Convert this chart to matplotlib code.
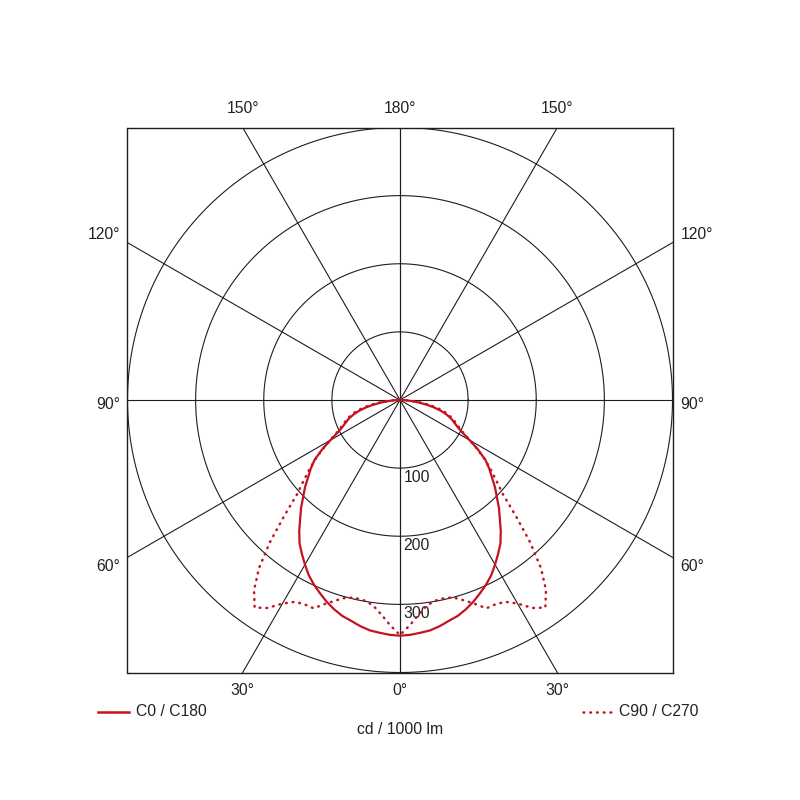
import numpy as np
import matplotlib
matplotlib.use("Agg")
import matplotlib.pyplot as plt
from matplotlib.lines import Line2D

plt.rcParams['font.family'] = ['Liberation Sans', 'DejaVu Sans']

# ---- data (gamma angle from nadir, cd / 1000 lm) ----
gamma_deg = [0, 2.5, 5, 7.5, 10, 12.5, 15, 17.5, 20, 22.5, 25, 27.5, 30, 32.5,
             35, 37.5, 40, 42.5, 45, 47.5, 50, 52.5, 55, 57.5, 60, 62.5, 65,
             67.5, 70, 72.5, 75, 77.5, 80, 82.5, 85, 87.5, 90]
c0_c180 = [346, 345, 343, 341, 337, 332, 328, 322, 315, 307, 299, 290, 279, 268,
           257, 243, 228, 215, 201, 189, 176, 165, 153, 136, 118, 103, 93,
           86, 80, 72, 63, 52, 40, 27, 16, 7, 0]
c90_c270 = [345, 331, 316, 304, 299, 298, 300, 308, 318, 331, 331, 334, 345, 362,
            372, 352, 322, 282, 240, 205, 185, 168, 152, 135, 119, 105, 96,
            89, 83, 76, 68, 58, 46, 34, 21, 10, 0]

ring_values = [100, 200, 300, 400]
ring_labels = ['100', '200', '300']
spoke_angles = [0, 30, 60, 90, 120, 150, 180]
top_labels = ['150°', '180°', '150°']
bottom_labels = ['30°', '0°', '30°']
side_labels = ['120°', '90°', '60°']
legend_labels = ['C0 / C180', 'C90 / C270']
unit_label = 'cd / 1000 lm'

RED = '#C5121F'
GRID = '#1e1e1e'
FS = 11.3
DOTS = (0, (0.3, 2.4))

fig = plt.figure(figsize=(8, 8), dpi=100)
ax = fig.add_axes([127.5 / 800, 127.5 / 800, 545 / 800, 545 / 800])
R = 400
ax.set_xlim(-R, R)
ax.set_ylim(-R, R)
ax.set_xticks([])
ax.set_yticks([])
for s in ax.spines.values():
    s.set_linewidth(1.0)
    s.set_color(GRID)

# rings
t = np.linspace(0, 2 * np.pi, 721)
for v in ring_values:
    ax.plot(v * np.cos(t), v * np.sin(t), color=GRID, lw=0.8, zorder=1)

# spokes
L = 2000
for a in spoke_angles:
    rad = np.deg2rad(a)
    for sgn in (1, -1):
        ax.plot([0, sgn * L * np.sin(rad)], [0, -L * np.cos(rad)],
                color=GRID, lw=0.8, zorder=1)

# ring value labels
for v, lab in zip(ring_values[:3], ring_labels):
    ax.text(5, -(v + 14), lab, ha='left', va='center', fontsize=FS,
            color='#222', zorder=3)

# angle labels
xt = R * np.tan(np.deg2rad(30))
for x, lab in zip([-xt, 0, xt], top_labels):
    ax.text(x, R + 28.6, lab, ha='center', va='center', fontsize=FS,
            color='#222', clip_on=False)
for x, lab in zip([-xt, 0, xt], bottom_labels):
    ax.text(x, -R - 26.5, lab, ha='center', va='center', fontsize=FS,
            color='#222', clip_on=False)
for y, lab in zip([243, -6, -245], side_labels):
    ax.text(-R - 11, y, lab, ha='right', va='center', fontsize=FS,
            color='#222', clip_on=False)
    ax.text(R + 12, y, lab, ha='left', va='center', fontsize=FS,
            color='#222', clip_on=False)

# curves
g = np.deg2rad(np.array(gamma_deg))
def full_curve(vals):
    r = np.array(vals, dtype=float)
    gg = np.concatenate([-g[::-1], g[1:]])
    rr = np.concatenate([r[::-1], r[1:]])
    return rr * np.sin(gg), -rr * np.cos(gg)

x0, y0 = full_curve(c0_c180)
x9, y9 = full_curve(c90_c270)
ax.plot(x9, y9, color=RED, lw=1.8, linestyle=DOTS,
        dash_capstyle='round', zorder=4)
ax.plot(x0, y0, color=RED, lw=1.6, zorder=5)

# legend
def fx(px):
    return px / 800
def fy(py):
    return 1 - py / 800

fig.add_artist(Line2D([fx(98), fx(129)], [fy(712), fy(712)], color=RED,
                      lw=1.8, transform=fig.transFigure))
fig.text(fx(136), fy(712), legend_labels[0], ha='left', va='center',
         fontsize=FS, color='#222')
fig.add_artist(Line2D([fx(583), fx(612)], [fy(712), fy(712)], color=RED,
                      lw=1.8, linestyle=DOTS, dash_capstyle='round',
                      transform=fig.transFigure))
fig.text(fx(619), fy(712), legend_labels[1], ha='left', va='center',
         fontsize=FS, color='#222')
fig.text(0.5, fy(730), unit_label, ha='center', va='center', fontsize=FS,
         color='#222')

fig.savefig('out.png', dpi=100, facecolor='white')
